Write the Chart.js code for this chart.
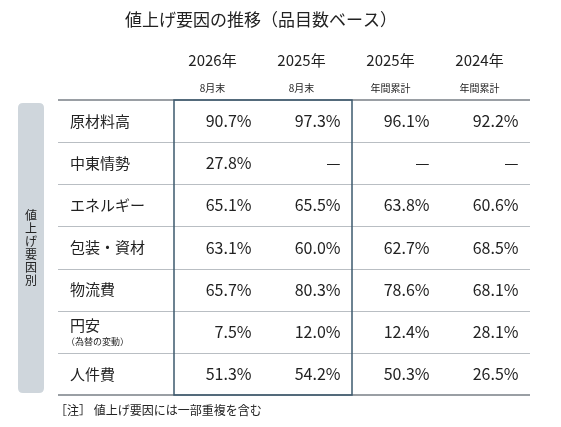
<!DOCTYPE html>
<html><head><meta charset="utf-8">
<script src="https://cdn.jsdelivr.net/npm/chart.js@4"></script>
<style>html,body{margin:0;background:#fff}#c{display:block}</style>
</head><body>
<canvas id="c" width="561" height="427"></canvas>
<script>
var FONT = '"Noto Sans CJK JP", "Noto Sans", sans-serif';
var title = "値上げ要因の推移（品目数ベース）";
var columnYears = ["2026年", "2025年", "2025年", "2024年"];
var columnSubs = ["8月末", "8月末", "年間累計", "年間累計"];
var rowLabels = ["原材料高", "中東情勢", "エネルギー", "包装・資材", "物流費", "円安", "人件費"];
var rowNotes = ["", "", "", "", "", "（為替の変動）", ""];
var col2026Aug = [90.7, 27.8, 65.1, 63.1, 65.7, 7.5, 51.3];
var col2025Aug = [97.3, null, 65.5, 60.0, 80.3, 12.0, 54.2];
var col2025Year = [96.1, null, 63.8, 62.7, 78.6, 12.4, 50.3];
var col2024Year = [92.2, null, 60.6, 68.5, 68.1, 28.1, 26.5];
var columns = [col2026Aug, col2025Aug, col2025Year, col2024Year];
var sideLabel = "値上げ要因別";
var note = "［注］ 値上げ要因には一部重複を含む";

var datasets = columns.map(function (vals, ci) {
  return {
    label: columnYears[ci] + columnSubs[ci],
    data: vals.map(function (v, ri) { return { x: columnYears[ci] + ci, y: rowLabels[ri], v: v }; }),
    pointRadius: 0
  };
});

var tablePlugin = {
  id: "table",
  beforeDatasetsDraw: function (chart) {
    var ctx = chart.ctx, a = chart.chartArea, ys = chart.scales.y;
    var labelLeft = a.left - 116;
    ctx.save();
    // side bar
    ctx.fillStyle = "#cfd6dc";
    roundRect(ctx, 18, a.top + 3, 26, a.bottom - a.top - 5, 5);
    ctx.fill();
    ctx.fillStyle = "#222";
    ctx.font = "12px " + FONT;
    ctx.textAlign = "center"; ctx.textBaseline = "middle";
    var chars = sideLabel.split("");
    var mid = (a.top + a.bottom) / 2;
    chars.forEach(function (ch, i) { ctx.fillText(ch, 31, mid + (i - (chars.length - 1) / 2) * 13); });
    // row lines
    ctx.strokeStyle = "#b9bec3"; ctx.lineWidth = 1;
    for (var i = 1; i < rowLabels.length; i++) {
      var yy = Math.round((ys.getPixelForValue(i - 1) + ys.getPixelForValue(i)) / 2) + 0.5;
      ctx.beginPath(); ctx.moveTo(labelLeft, yy); ctx.lineTo(a.right, yy); ctx.stroke();
    }
    ctx.strokeStyle = "#9a9fa4"; ctx.lineWidth = 2;
    [a.top, a.bottom].forEach(function (yy) {
      ctx.beginPath(); ctx.moveTo(labelLeft, yy); ctx.lineTo(a.right, yy); ctx.stroke();
    });
    ctx.restore();
  },
  afterDatasetsDraw: function (chart) {
    var ctx = chart.ctx, a = chart.chartArea, xs = chart.scales.x, ys = chart.scales.y;
    var labelLeft = a.left - 116;
    ctx.save();
    ctx.fillStyle = "#222";
    ctx.textBaseline = "middle";
    // title
    ctx.font = "17px " + FONT; ctx.textAlign = "center";
    ctx.fillText(title, 261, 20);
    // headers
    columnYears.forEach(function (y, ci) {
      var cx = xs.getPixelForValue(ci) - 6;
      ctx.font = "15px " + FONT; ctx.fillText(y, cx, 60);
      ctx.font = "10px " + FONT; ctx.fillText(columnSubs[ci], cx, 88);
    });
    // row labels
    ctx.textAlign = "left";
    rowLabels.forEach(function (lab, ri) {
      var cy = ys.getPixelForValue(ri);
      if (rowNotes[ri]) {
        ctx.font = "15px " + FONT; ctx.fillText(lab, labelLeft + 12, cy - 6);
        ctx.font = "9px " + FONT; ctx.fillText(rowNotes[ri], labelLeft + 8, cy + 10);
      } else {
        ctx.font = "15px " + FONT; ctx.fillText(lab, labelLeft + 12, cy);
      }
    });
    // values
    ctx.textAlign = "right"; ctx.font = "16px " + FONT;
    chart.data.datasets.forEach(function (ds, ci) {
      var meta = chart.getDatasetMeta(ci);
      ds.data.forEach(function (d, ri) {
        var p = meta.data[ri];
        ctx.fillText(d.v == null ? "—" : d.v.toFixed(1) + "%", p.x + 33, p.y);
      });
    });
    // highlight box
    ctx.strokeStyle = "#3d5a6e"; ctx.lineWidth = 1.5;
    var x0 = xs.getPixelForValue(0) - (xs.getPixelForValue(1) - xs.getPixelForValue(0)) / 2;
    var x1 = (xs.getPixelForValue(1) + xs.getPixelForValue(2)) / 2;
    ctx.strokeRect(x0, a.top, x1 - x0, a.bottom - a.top);
    // note
    ctx.textAlign = "left"; ctx.font = "12px " + FONT;
    ctx.fillText(note, 55, 410);
    ctx.restore();
  }
};

function roundRect(ctx, x, y, w, h, r) {
  ctx.beginPath();
  ctx.moveTo(x + r, y); ctx.lineTo(x + w - r, y); ctx.quadraticCurveTo(x + w, y, x + w, y + r);
  ctx.lineTo(x + w, y + h - r); ctx.quadraticCurveTo(x + w, y + h, x + w - r, y + h);
  ctx.lineTo(x + r, y + h); ctx.quadraticCurveTo(x, y + h, x, y + h - r);
  ctx.lineTo(x, y + r); ctx.quadraticCurveTo(x, y, x + r, y); ctx.closePath();
}

new Chart(document.getElementById("c"), {
  type: "scatter",
  data: { datasets: datasets },
  options: {
    responsive: false, animation: false,
    layout: { padding: { left: 174, right: 31, top: 100, bottom: 32 } },
    plugins: { legend: { display: false }, tooltip: { enabled: false } },
    scales: {
      x: { type: "category", labels: columnYears.map(function (y, i) { return y + i; }), offset: true, display: false },
      y: { type: "category", labels: rowLabels, offset: true, display: false }
    }
  },
  plugins: [tablePlugin]
});
</script>
</body></html>
